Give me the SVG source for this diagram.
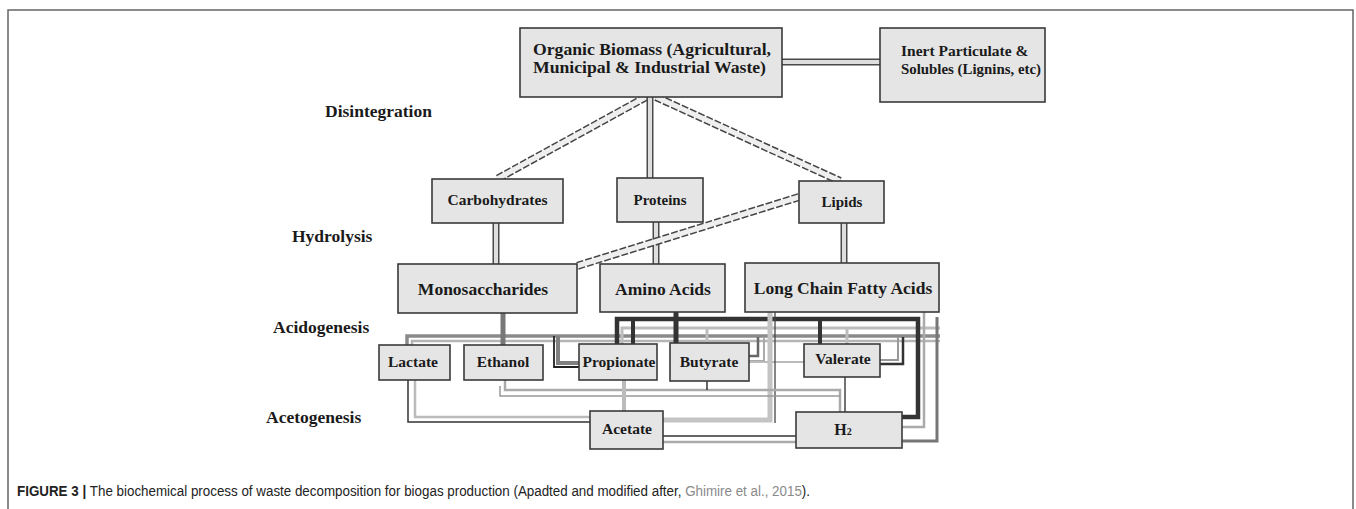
<svg xmlns="http://www.w3.org/2000/svg" width="1356" height="509" viewBox="0 0 1356 509">
<style>
.box{fill:#e5e5e5;stroke:#3a3a3a;stroke-width:1.6}
.t{font-family:"Liberation Serif","Times New Roman",serif;font-weight:bold;fill:#1a1a1a}
.a{font-size:15.5px}
.lbl{font-family:"Liberation Serif","Times New Roman",serif;font-weight:bold;fill:#1a1a1a;font-size:17.5px}
.o{fill:none;stroke:#4a4a4a;stroke-width:7}
.i{fill:none;stroke:#dedede;stroke-width:4}
.od{fill:none;stroke:#444;stroke-width:8;stroke-dasharray:7 2}
.id{fill:none;stroke:#efefef;stroke-width:5}
.ln{fill:none}
.cap{font-family:"Liberation Sans",Arial,sans-serif;font-size:14px;fill:#222}
</style>
<rect x="0" y="0" width="1356" height="509" fill="#fff"/>
<path d="M8,520 V10 H1353 V520" fill="none" stroke="#666" stroke-width="1.5"/>

<g id="labels">
<text class="lbl" x="325" y="117">Disintegration</text>
<text class="lbl" x="292" y="242">Hydrolysis</text>
<text class="lbl" x="273" y="333">Acidogenesis</text>
<text class="lbl" x="266" y="423">Acetogenesis</text>
</g>

<g id="connectors">
<path class="o" d="M782,62 H880" stroke-width="10"/><path class="i" d="M782,62 H880" stroke-width="6"/>
<path class="od" d="M646,97 L497,179"/><path class="id" d="M646,97 L497,179"/>
<path class="od" d="M656,97 L840,181"/><path class="id" d="M656,97 L840,181"/>
<path class="o" d="M650,97 V178"/><path class="i" d="M650,97 V178"/>
<path class="o" d="M496,223 V264"/><path class="i" d="M496,223 V264"/>
<path class="o" d="M656,222 V264"/><path class="i" d="M656,222 V264"/>
<path class="o" d="M844,223 V263"/><path class="i" d="M844,223 V263"/>
<path class="od" d="M799,197 L577,266"/><path class="id" d="M799,197 L577,266"/>

<path class="ln" d="M407,345 V336 H940" stroke="#8a8a8a" stroke-width="3.5"/>
<path class="ln" d="M412,345 V341 H940" stroke="#b5b5b5" stroke-width="2.5"/>
<path class="ln" d="M503,313 V345" stroke="#777" stroke-width="5"/>
<path class="ln" d="M558,336 V363 H579" stroke="#808080" stroke-width="4"/>
<path class="ln" d="M554,336 V367 H579" stroke="#222" stroke-width="1.8"/>
<path class="ln" d="M622,344 V328 H940" stroke="#bdbdbd" stroke-width="3"/>
<path class="ln" d="M707,328 V343" stroke="#bdbdbd" stroke-width="3"/>
<path class="ln" d="M847,328 V344" stroke="#bdbdbd" stroke-width="3"/>
<path class="ln" d="M617,344 V319 H918 V417 H902" stroke="#333" stroke-width="4.5"/>
<path class="ln" d="M676,312 V343" stroke="#333" stroke-width="5"/>
<path class="ln" d="M633,319 V344" stroke="#333" stroke-width="4"/>
<path class="ln" d="M820,319 V344" stroke="#333" stroke-width="4"/>
<path class="ln" d="M749,356 H758 V337" stroke="#666" stroke-width="2.5"/>
<path class="ln" d="M749,361 H764 V337" stroke="#aaa" stroke-width="2"/>
<path class="ln" d="M749,362 H804" stroke="#bbb" stroke-width="2"/>
<path class="ln" d="M880,364 H903 V337" stroke="#333" stroke-width="2.5"/>
<path class="ln" d="M880,360 H898 V337" stroke="#999" stroke-width="2"/>
<path class="ln" d="M770,312 V420 H663" stroke="#c4c4c4" stroke-width="5"/>
<path class="ln" d="M775,312 V423" stroke="#444" stroke-width="1.3"/>
<path class="ln" d="M505,380 V390 H840 V412" stroke="#aaa" stroke-width="2.5"/>
<path class="ln" d="M500,386 V396 H840" stroke="#999" stroke-width="1.5"/>
<path class="ln" d="M707,381 V390" stroke="#333" stroke-width="1.5"/>
<path class="ln" d="M845,377 V412" stroke="#444" stroke-width="1.5"/>
<path class="ln" d="M624,380 V411" stroke="#bbb" stroke-width="4"/>
<path class="ln" d="M408,380 V422 H590" stroke="#333" stroke-width="1.5"/>
<path class="ln" d="M415,380 V417 H624" stroke="#bbb" stroke-width="2.5"/>
<path class="ln" d="M663,436 H796" stroke="#333" stroke-width="1.5"/>
<path class="ln" d="M663,442 H796" stroke="#aaa" stroke-width="2.5"/>
<path class="ln" d="M902,427 H924 V312" stroke="#aaa" stroke-width="2.5"/>
<path class="ln" d="M902,441 H937 V317" stroke="#777" stroke-width="3"/>
</g>

<g id="organic"><rect class="box" x="520" y="28" width="262" height="69"/>
<text class="t" font-size="16" x="533" y="55" textLength="238" lengthAdjust="spacingAndGlyphs">Organic Biomass (Agricultural,</text>
<text class="t" font-size="16" x="533" y="73" textLength="233" lengthAdjust="spacingAndGlyphs">Municipal &amp; Industrial Waste)</text></g>
<g id="inert"><rect class="box" x="880" y="28" width="165" height="74"/>
<text class="t" font-size="15.5" x="901" y="56">Inert Particulate &amp;</text>
<text class="t" font-size="15.5" x="901" y="74" textLength="140" lengthAdjust="spacingAndGlyphs">Solubles (Lignins, etc)</text></g>
<g id="carbohydrates"><rect class="box" x="432" y="179" width="131" height="44"/>
<text class="t" font-size="15.5" x="497.5" y="205" text-anchor="middle">Carbohydrates</text></g>
<g id="proteins"><rect class="box" x="617" y="178" width="86" height="44"/>
<text class="t" font-size="15" x="660" y="205" text-anchor="middle">Proteins</text></g>
<g id="lipids"><rect class="box" x="799" y="181" width="85" height="42"/>
<text class="t" font-size="15" x="842" y="207" text-anchor="middle">Lipids</text></g>
<g id="monosaccharides"><rect class="box" x="398" y="264" width="179" height="49"/>
<text class="t" font-size="17.5" x="483" y="295" text-anchor="middle">Monosaccharides</text></g>
<g id="amino"><rect class="box" x="600" y="264" width="125" height="48"/>
<text class="t" font-size="17.5" x="663" y="295" text-anchor="middle">Amino Acids</text></g>
<g id="lcfa"><rect class="box" x="745" y="263" width="194" height="49"/>
<text class="t" font-size="17.5" x="843" y="294" text-anchor="middle">Long Chain Fatty Acids</text></g>
<g id="lactate"><rect class="box" x="379" y="345" width="71" height="35"/>
<text class="t a" x="413" y="367" text-anchor="middle">Lactate</text></g>
<g id="ethanol"><rect class="box" x="464" y="345" width="79" height="35"/>
<text class="t a" x="503" y="367" text-anchor="middle">Ethanol</text></g>
<g id="propionate"><rect class="box" x="579" y="344" width="78" height="36"/>
<text class="t a" x="619" y="367" text-anchor="middle">Propionate</text></g>
<g id="butyrate"><rect class="box" x="670" y="343" width="79" height="38"/>
<text class="t a" x="709" y="367" text-anchor="middle">Butyrate</text></g>
<g id="valerate"><rect class="box" x="804" y="344" width="76" height="33"/>
<text class="t a" x="843" y="364" text-anchor="middle">Valerate</text></g>
<g id="acetate"><rect class="box" x="590" y="411" width="73" height="38"/>
<text class="t a" x="627" y="434" text-anchor="middle">Acetate</text></g>
<g id="h2"><rect class="box" x="796" y="412" width="106" height="36"/>
<text class="t" font-size="16" x="843" y="435" text-anchor="middle">H<tspan font-size="10">2</tspan></text></g>

<g id="caption">
<text class="cap" x="17" y="496" textLength="793" lengthAdjust="spacingAndGlyphs"><tspan font-weight="bold">FIGURE 3 | </tspan>The biochemical process of waste decomposition for biogas production (Apadted and modified after, <tspan style="fill:#8a8a8a">Ghimire et al., 2015</tspan>).</text>
</g>
</svg>
